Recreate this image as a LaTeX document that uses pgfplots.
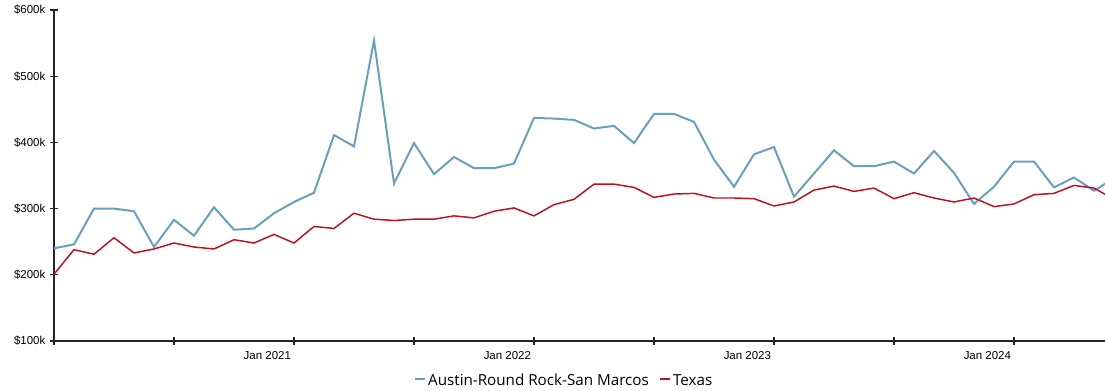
\documentclass[border=0pt]{standalone}
\usepackage{pgfplots}
\pgfplotsset{compat=1.18}
\usepackage{fontspec}
\setmainfont{Liberation Sans}
\newfontfamily\legfont{Open Sans}
\definecolor{austin}{RGB}{104,160,190}
\definecolor{texas}{RGB}{190,16,32}
\begin{document}
\begin{tikzpicture}
\useasboundingbox (0,0) rectangle (828.75pt,293.25pt);
\begin{axis}[
  at={(40.5pt,37.5pt)}, anchor=south west,
  scale only axis, width=788.25pt, height=248.25pt,
  xmin=0, xmax=52.55, ymin=100, ymax=600,
  axis lines=left, axis line style={-, line width=1.2pt, black!85},
  tick align=center, major tick length=6pt,
  tick style={line width=1pt, black!85},
  xtick={0,6,...,48},
  xticklabels={,,Jan 2021,,Jan 2022,,Jan 2023,,Jan 2024},
  xticklabel style={xshift=-20pt, font=\fontsize{8.6}{10}\selectfont, yshift=-1pt},
  ytick={100,200,...,600},
  yticklabel={\$\pgfmathprintnumber{\tick}k},
  yticklabel style={font=\fontsize{8.6}{10}\selectfont},
  /pgf/number format/assume math mode=true,
  legend columns=2,
  legend style={draw=none, fill=none, at={(0.486,-0.121)}, anchor=center,
    font=\legfont\fontsize{11.4}{13}\selectfont,
    /tikz/every even column/.append style={column sep=6pt}},
  legend image code/.code={\draw[#1, line width=1.2pt] (0pt,1.5pt) -- (7pt,1.5pt);},
]
\addplot[austin, line width=1.5pt] coordinates {
(0,240)(1,246)(2,300)(3,300)(4,296)(5,242)(6,283)(7,259)(8,302)(9,268)
(10,270)(11,293)(12,310)(13,324)(14,411)(15,394)(16,554)(17,338)(18,399)(19,352)
(20,378)(21,361)(22,361)(23,368)(24,437)(25,436)(26,434)(27,421)(28,425)(29,399)
(30,443)(31,443)(32,431)(33,374)(34,333)(35,382)(36,393)(37,318)(38,353)(39,388)
(40,364)(41,364)(42,371)(43,353)(44,387)(45,354)(46,307)(47,333)(48,371)(49,371)
(50,332)(51,347)(52,327)(53,346)};
\addlegendentry{Austin-Round Rock-San Marcos}
\addplot[texas, line width=1.1pt] coordinates {
(0,201)(1,238)(2,231)(3,256)(4,233)(5,239)(6,248)(7,242)(8,239)(9,253)
(10,248)(11,261)(12,248)(13,273)(14,270)(15,293)(16,284)(17,282)(18,284)(19,284)
(20,289)(21,286)(22,296)(23,301)(24,289)(25,306)(26,314)(27,337)(28,337)(29,332)
(30,317)(31,322)(32,323)(33,316)(34,316)(35,315)(36,304)(37,310)(38,328)(39,334)
(40,326)(41,331)(42,315)(43,324)(44,316)(45,310)(46,316)(47,303)(48,307)(49,321)
(50,323)(51,335)(52,331)(53,314)};
\addlegendentry{Texas}
\end{axis}
\end{tikzpicture}
\end{document}
